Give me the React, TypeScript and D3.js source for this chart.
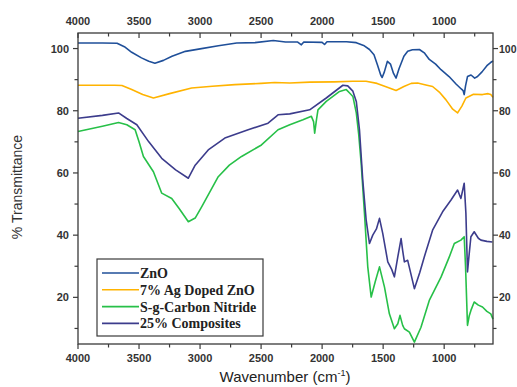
import { useRef, useEffect } from 'react'
import * as d3 from 'd3'

// wavenumber (cm-1), % transmittance
const zno: [number, number][] = [
  [4000, 101.8], [3800, 101.8], [3680, 101.7], [3620, 100.6], [3560, 98.8], [3480, 97], [3420, 95.9], [3370, 95.3],
  [3300, 96.2], [3230, 97.5], [3120, 99.1], [3000, 99.9], [2850, 100.9], [2700, 101.8], [2550, 101.9], [2400, 102.6],
  [2300, 102.1], [2200, 102.1], [2170, 101.2], [2150, 102.1], [2000, 102], [1980, 101.3], [1960, 102.2], [1800, 102.2],
  [1720, 101.9], [1660, 101], [1612, 99.7], [1575, 98], [1547, 94.8], [1520, 91.5], [1508, 90.7], [1490, 92.5],
  [1465, 95.9], [1440, 95], [1415, 92], [1394, 90.5], [1370, 93.5], [1330, 97.5], [1299, 99.1], [1260, 99.6],
  [1203, 99.7], [1160, 98.5], [1122, 96.5], [1070, 95], [1026, 93.2], [960, 91], [903, 88.6], [860, 87], [845, 86.5],
  [836, 85.2], [825, 88], [809, 91], [780, 91.5], [750, 90.5], [727, 91], [690, 92.5], [650, 94.5], [620, 95.5], [600, 96],
]

const agZno: [number, number][] = [
  [4000, 88.2], [3700, 88.2], [3640, 88.1], [3560, 86.8], [3470, 85.2], [3382, 84.1], [3250, 85.5], [3069, 87.3],
  [2900, 87.9], [2715, 88.4], [2500, 88.8], [2388, 89.1], [2265, 88.9], [2100, 89.2], [1900, 89.3], [1750, 89.5],
  [1640, 89.5], [1550, 88.8], [1460, 87.5], [1394, 86.5], [1330, 87.8], [1270, 88.8], [1217, 88.9], [1150, 88.3],
  [1095, 87.8], [1040, 86], [985, 83.5], [930, 80.5], [890, 79.3], [855, 81.5], [822, 84.1], [760, 85.3], [686, 85.2],
  [640, 85.5], [618, 85.2], [600, 84.3],
]

const sgcn: [number, number][] = [
  [4000, 73.3], [3800, 75], [3668, 76.2], [3600, 75.5], [3532, 73.9], [3500, 70], [3464, 65.3], [3382, 60.4],
  [3314, 53.5], [3232, 51.8], [3170, 48.5], [3096, 44.3], [3040, 45.5], [2987, 49.1], [2851, 58.8], [2760, 62.5],
  [2660, 65.3], [2497, 69], [2361, 73.9], [2265, 75.5], [2157, 77.1], [2088, 78.2], [2070, 76.5], [2061, 72.8],
  [2045, 77.5], [2034, 80.3], [1966, 83], [1857, 86.2], [1802, 86.8], [1775, 85.7], [1748, 84.6], [1720, 79.3],
  [1700, 72.3], [1680, 63.1], [1653, 47], [1626, 29.8], [1598, 20.1], [1565, 25], [1530, 29.8], [1489, 23.3],
  [1449, 14.7], [1408, 9.9], [1380, 11.5], [1362, 14.2], [1340, 11], [1326, 9.9], [1285, 8.8], [1244, 5.6],
  [1190, 10.4], [1122, 19], [1026, 26.5], [958, 33], [917, 37.3], [863, 38.4], [836, 39.5], [825, 30], [815, 18],
  [809, 11], [795, 14], [781, 15.8], [754, 18.5], [720, 17.5], [686, 16.9], [650, 15.5], [618, 14.7], [600, 13],
]

const composite: [number, number][] = [
  [4000, 77.6], [3800, 78.5], [3668, 79.3], [3600, 77.5], [3518, 75.5], [3420, 70], [3314, 64.7], [3200, 61],
  [3096, 58.3], [3040, 62.5], [2933, 67.4], [2797, 71.2], [2606, 73.9], [2443, 76], [2361, 78.7], [2265, 79],
  [2102, 80.3], [1966, 84.1], [1830, 88.2], [1790, 88], [1748, 86.3], [1720, 83], [1694, 73.9], [1667, 57.7],
  [1639, 44.8], [1612, 37.3], [1585, 40], [1555, 42], [1530, 45.4], [1503, 40.5], [1462, 31.4], [1430, 29],
  [1408, 26.6], [1380, 33], [1353, 38.9], [1340, 35], [1326, 31.4], [1299, 31.9], [1244, 22.8], [1200, 28],
  [1163, 33], [1095, 41.6], [1013, 47.5], [944, 51.3], [890, 54.5], [863, 51.8], [836, 56.7], [822, 47],
  [809, 28.2], [795, 34], [781, 39.5], [754, 41.1], [720, 39], [699, 38.4], [650, 38], [605, 37.8],
]

const series = [
  { label: 'ZnO', color: '#1f4f99', data: zno },
  { label: '7% Ag Doped ZnO', color: '#ffb300', data: agZno },
  { label: 'S-g-Carbon Nitride', color: '#27c048', data: sgcn },
  { label: '25% Composites', color: '#3c3c8c', data: composite },
]

const xMajor = [4000, 3500, 3000, 2500, 2000, 1500, 1000]
const xMinor = [3750, 3250, 2750, 2250, 1750, 1250, 750]
const yMajor = [20, 40, 60, 80, 100]
const yMinor = [10, 30, 50, 70, 90]

export default function App() {
  const svgRef = useRef<SVGSVGElement | null>(null)

  useEffect(() => {
    if (!svgRef.current) return
    const svg = d3.select(svgRef.current)
    svg.selectAll('*').remove()

    const left = 78, right = 493, top = 33, bottom = 344
    const x = d3.scaleLinear().domain([4000, 600]).range([left, right])
    const y = d3.scaleLinear().domain([5, 105]).range([bottom, top])
    const axisColor = '#3a3a3a'
    const tickFont = 'Liberation Sans, Arial, sans-serif'

    // curves
    const line = d3.line<[number, number]>().x(d => x(d[0])).y(d => y(d[1]))
    series.forEach(s => {
      svg.append('path').datum(s.data).attr('d', line).attr('fill', 'none')
        .attr('stroke', s.color).attr('stroke-width', 1.6).attr('stroke-linejoin', 'round')
    })

    // frame
    svg.append('rect').attr('x', left).attr('y', top).attr('width', right - left).attr('height', bottom - top)
      .attr('fill', 'none').attr('stroke', axisColor).attr('stroke-width', 1.3)

    // x ticks: bottom outward, top inward
    const xt = svg.append('g').attr('stroke', axisColor).attr('stroke-width', 1.2)
    xMajor.concat(xMinor).forEach(v => {
      const len = xMajor.includes(v) ? 5 : 3.5
      xt.append('line').attr('x1', x(v)).attr('x2', x(v)).attr('y1', bottom).attr('y2', bottom + len)
      xt.append('line').attr('x1', x(v)).attr('x2', x(v)).attr('y1', top).attr('y2', top + len)
    })
    // y ticks: both outward
    const yt = svg.append('g').attr('stroke', axisColor).attr('stroke-width', 1.2)
    yMajor.concat(yMinor).forEach(v => {
      const len = yMajor.includes(v) ? 5 : 3.5
      yt.append('line').attr('x1', left - len).attr('x2', left).attr('y1', y(v)).attr('y2', y(v))
      yt.append('line').attr('x1', right).attr('x2', right + len).attr('y1', y(v)).attr('y2', y(v))
    })

    xMajor.forEach(v => {
      svg.append('text').attr('x', x(v)).attr('y', 362).attr('text-anchor', 'middle')
        .attr('font-family', tickFont).attr('font-size', 11).attr('font-weight', 'bold').attr('fill', '#333').text(v)
      svg.append('text').attr('x', x(v)).attr('y', 25).attr('text-anchor', 'middle')
        .attr('font-family', tickFont).attr('font-size', 11).attr('font-weight', 'bold').attr('fill', '#333').text(v)
    })
    yMajor.forEach(v => {
      svg.append('text').attr('x', left - 9).attr('y', y(v) + 4).attr('text-anchor', 'end')
        .attr('font-family', tickFont).attr('font-size', 11).attr('font-weight', 'bold').attr('fill', '#333').text(v)
      svg.append('text').attr('x', right + 6).attr('y', y(v) + 4).attr('text-anchor', 'start')
        .attr('font-family', tickFont).attr('font-size', 10.5).attr('font-weight', 'bold').attr('fill', '#333').text(v)
    })

    // axis titles
    const xt2 = svg.append('text').attr('x', 285).attr('y', 382).attr('text-anchor', 'middle')
      .attr('font-family', tickFont).attr('font-size', 15).attr('fill', '#222')
    xt2.append('tspan').text('Wavenumber (cm')
    xt2.append('tspan').attr('dy', -6).attr('font-size', 9).text('-1')
    xt2.append('tspan').attr('dy', 6).text(')')
    svg.append('text').attr('transform', 'translate(22,187) rotate(-90)').attr('text-anchor', 'middle')
      .attr('font-family', tickFont).attr('font-size', 14).attr('fill', '#333').text('% Transmittance')

    // legend
    const lg = svg.append('g')
    lg.append('rect').attr('x', 97).attr('y', 259).attr('width', 166).attr('height', 77)
      .attr('fill', '#fff').attr('stroke', axisColor).attr('stroke-width', 1.2)
    series.forEach((s, i) => {
      const ry = 273 + i * 16.8
      lg.append('line').attr('x1', 102).attr('x2', 139).attr('y1', ry).attr('y2', ry)
        .attr('stroke', s.color).attr('stroke-width', 1.6)
      lg.append('text').attr('x', 140).attr('y', ry + 5).attr('font-family', 'Liberation Serif, Times New Roman, serif')
        .attr('font-size', 14).attr('font-weight', 'bold').attr('fill', '#222').text(s.label)
    })
  }, [])

  return (
    <svg ref={svgRef} width={517} height={387}
      style={{ position: 'absolute', left: 0, top: 0, background: '#fff' }} />
  )
}
